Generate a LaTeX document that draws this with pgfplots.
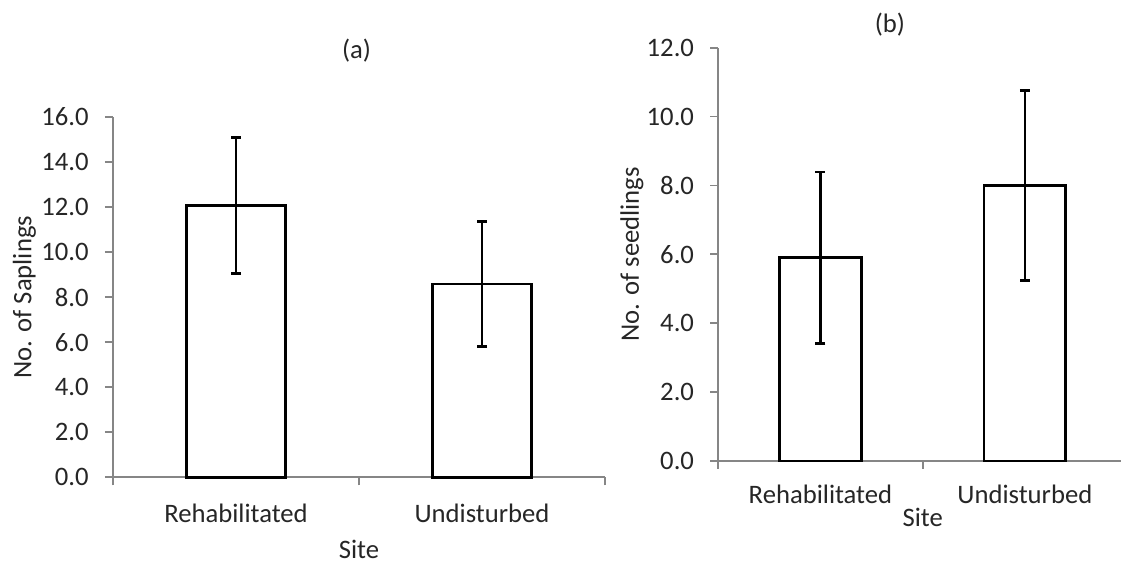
\documentclass[border=0pt]{standalone}
\usepackage{pgfplots}
\pgfplotsset{compat=1.18}
\usepackage{fontspec}
\setmainfont{Carlito}
\definecolor{axgray}{HTML}{868686}
\definecolor{txt}{HTML}{262626}
\pgfplotsset{
  panel/.style={
    scale only axis,
    axis x line=bottom, axis y line=left,
    axis line style={-, axgray, line width=1.4pt},
    every tick/.style={axgray, line width=1.4pt},
    tick align=outside,
    major tick length=6pt,
    xmin=-0.5, xmax=1.5, ymin=0,
    xtick={-0.5,0.5,1.5}, xticklabels={},
    extra x ticks={0,1},
    extra x tick labels={Rehabilitated,Undisturbed},
    font=\fontsize{20pt}{24pt}\selectfont,
    every tick label/.append style={text=txt, font=\fontsize{20pt}{24pt}\selectfont},
    label style={text=txt},
    title style={text=txt, anchor=center},
    /pgf/number format/assume math mode=true,
    yticklabel style={/pgf/number format/fixed, /pgf/number format/fixed zerofill, /pgf/number format/precision=1},
    yticklabel style={anchor=east, inner sep=0pt, xshift=-12pt},
    ybar, bar width=0.4,
    clip=false,
  },
  barstyle/.style={
    draw=black, fill=white, line width=2pt,
    error bars/.cd, y dir=both, y explicit,
    error bar style={line width=2pt, black},
    error mark options={rotate=90, mark size=3.75pt, line width=2pt, black},
  },
}
\begin{document}
\begin{tikzpicture}
\useasboundingbox (0,0) rectangle (840.75pt,422.25pt);
% panel (a)
\begin{axis}[panel,
  at={(84.75pt,64.3pt)}, anchor=south west,
  width=369pt, height=270.2pt,
  ymax=16, ytick={0,2,...,16},
  extra x tick style={major tick length=0pt, xticklabel style={anchor=center, yshift=-27pt}},
  ylabel={No. of Saplings},
  ylabel style={at={(axis description cs:-0.18,0.5)}, anchor=center},
  xlabel={Site},
  xlabel style={at={(axis description cs:0.5,-0.2)}, anchor=center},
  title={(a)},
  title style={at={(axis description cs:0.495,1.162)}},
]
\addplot[barstyle] coordinates {(0,12.06) +- (0,3.02) (1,8.58) +- (0,2.77)};
\end{axis}
% panel (b)
\begin{axis}[panel,
  at={(538.7pt,76.5pt)}, anchor=south west,
  width=306.6pt, height=310pt,
  ymax=12, ytick={0,2,...,12},
  extra x tick style={major tick length=0pt, xticklabel style={anchor=center, yshift=-24.75pt}},
  ylabel={No. of seedlings},
  ylabel style={at={(axis description cs:-0.211,0.5)}, anchor=center},
  xlabel={Site},
  xlabel style={at={(axis description cs:0.5,-0.1355)}, anchor=center},
  title={(b)},
  title style={at={(axis description cs:0.42,1.036)}},
]
\addplot[barstyle] coordinates {(0,5.90) +- (0,2.49) (1,8.00) +- (0,2.76)};
\end{axis}
\end{tikzpicture}
\end{document}
